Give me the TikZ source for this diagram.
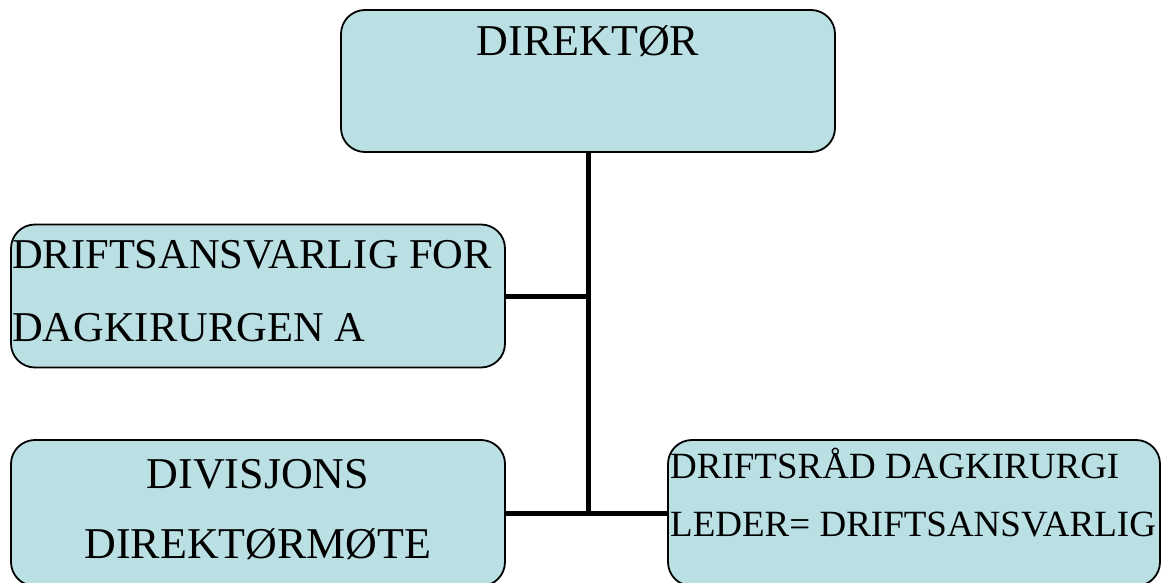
\documentclass[tikz,border=0pt]{standalone}
\usepackage{fontspec}
\setmainfont{Liberation Serif}
\definecolor{boxfill}{RGB}{186,224,227}
\begin{document}
\begin{tikzpicture}[x=1pt,y=-1pt,
  orgbox/.style={draw=black,line width=1.8pt,fill=boxfill,rounded corners=24pt,
    rectangle,inner sep=0pt},
  big/.style={font=\fontsize{44}{44}\selectfont,inner sep=0pt,anchor=base},
  mid/.style={font=\fontsize{42.5}{42.5}\selectfont,inner sep=0pt,anchor=base west},
  small/.style={font=\fontsize{37}{37}\selectfont,inner sep=0pt,anchor=base west},
  conn/.style={line width=5pt}]
\useasboundingbox (0,0) rectangle (1163,583);
% boxes
\node[orgbox,minimum width=494pt,minimum height=142pt] (dir) at (588,81) {};
\node[orgbox,minimum width=494pt,minimum height=143pt] (drift) at (258,296) {};
\node[orgbox,minimum width=494pt,minimum height=146pt] (div) at (258,513) {};
\node[orgbox,minimum width=492pt,minimum height=146pt] (rad) at (914,513) {};
% connectors
\coordinate (hub) at (dir.south |- div.east);
\draw[conn] (dir.south) -- (hub);
\draw[conn] (drift.east) -- (drift.east -| dir.south);
\draw[conn] (div.east) -- (rad.west);
% labels
\node[big] (t1) at (588,56) {DIREKTØR};
\node[mid] (t2) at (12,269) {DRIFTSANSVARLIG FOR};
\node[mid] (t3) at (12,341) {DAGKIRURGEN A};
\node[big] (t4) at (258,488) {DIVISJONS};
\node[big] (t5) at (258,558) {DIREKTØRMØTE};
\node[small] (t6) at (670,478) {DRIFTSRÅD DAGKIRURGI};
\node[small] (t7) at (670,536) {LEDER= DRIFTSANSVARLIG};
\end{tikzpicture}
\end{document}
